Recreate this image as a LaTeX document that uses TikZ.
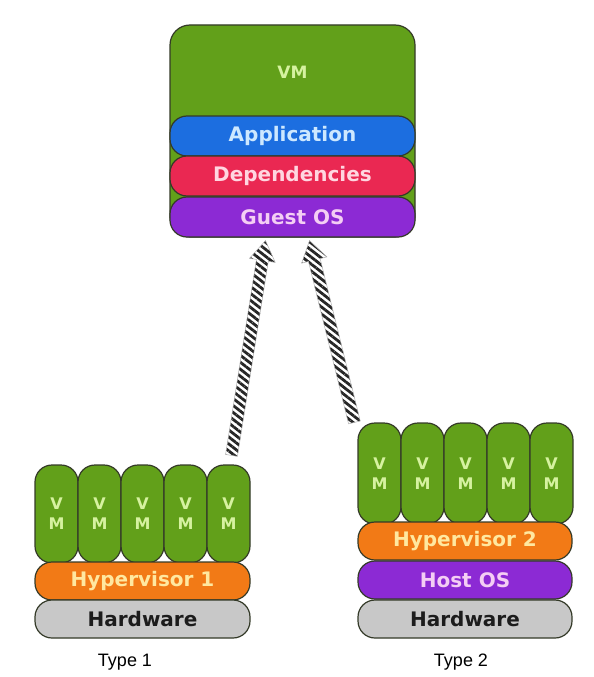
\documentclass[tikz,border=0pt]{standalone}
\usepackage{fontspec}
\setmainfont{DejaVu Sans}
\newfontfamily\typefont{Liberation Sans}
\usetikzlibrary{calc,patterns.meta}

\definecolor{vmgreen}{RGB}{98,160,26}
\definecolor{vmtext}{RGB}{214,242,160}
\definecolor{appblue}{RGB}{28,110,224}
\definecolor{apptext}{RGB}{205,232,255}
\definecolor{depred}{RGB}{234,40,82}
\definecolor{deptext}{RGB}{255,214,224}
\definecolor{ospurple}{RGB}{140,42,212}
\definecolor{ostext}{RGB}{244,206,244}
\definecolor{hvorange}{RGB}{242,122,22}
\definecolor{hvtext}{RGB}{255,232,160}
\definecolor{hwgray}{RGB}{200,200,200}
\definecolor{hwtext}{RGB}{28,28,28}
\definecolor{edge}{RGB}{52,58,40}

% striped arrow from #1 (tail) to #2 (tip)
\newcommand{\hatcharrow}[2]{%
  \coordinate (hb) at ($(#2)!20pt!(#1)$);
  \filldraw[hatch] ($(#1)!6pt!90:(#2)$) -- ($(hb)!6pt!90:(#2)$)
    -- ($(hb)!13pt!90:(#2)$) -- (#2) -- ($(hb)!13pt!-90:(#2)$)
    -- ($(hb)!6pt!-90:(#2)$) -- ($(#1)!6pt!-90:(#2)$) -- cycle;
}

\begin{document}
\begin{tikzpicture}[x=1pt,y=-1pt,
    layer/.style={draw=edge, line width=1.2pt, rounded corners=17pt,
      minimum height=40pt, inner sep=0pt,
      font=\bfseries\fontsize{20}{22}\selectfont},
    vmpill/.style={draw=edge, line width=1.2pt, fill=vmgreen, text=vmtext,
      rounded corners=17pt, minimum width=43pt, minimum height=#1,
      inner sep=0pt, align=center,
      font=\bfseries\fontsize{16}{20}\selectfont},
    hatch/.style={draw=gray!60, line width=0.5pt, pattern color=black!85,
      pattern={Lines[angle=-38,distance=5.5pt,line width=2.8pt]}},
    typelabel/.style={font=\typefont\fontsize{18}{20}\selectfont}]
  \useasboundingbox (0,0) rectangle (594,677);

  % the VM
  \node[layer, fill=vmgreen, minimum width=245pt, minimum height=212pt,
    rounded corners=20pt] (vm) at (292.5,131) {};
  \node[text=vmtext, font=\bfseries\fontsize{17}{19}\selectfont] (vmlabel) at (292.5,72) {VM};
  \node[layer, fill=appblue, text=apptext, minimum width=245pt] (app) at (292.5,136) {Application};
  \node[layer, fill=depred, text=deptext, minimum width=245pt] (dep) at (292.5,176) {Dependencies};
  \node[layer, fill=ospurple, text=ostext, minimum width=245pt] (guest) at (292.5,217) {Guest OS};

  % Type 1
  \foreach \i in {1,...,5}
    \node[vmpill=98pt] (ta\i) at ({13.5+43*\i},514) {V\\M};
  \node[layer, fill=hvorange, text=hvtext, minimum width=215pt, minimum height=38pt] (hyp1) at (142.5,581) {Hypervisor 1};
  \node[layer, fill=hwgray, text=hwtext, minimum width=215pt, minimum height=38pt] (hw1) at (142.5,619) {Hardware};
  \node[typelabel] (type1) at (125,662) {Type 1};

  % Type 2
  \foreach \i in {1,...,5}
    \node[vmpill=101pt] (tb\i) at ({336.5+43*\i},473.5) {V\\M};
  \node[layer, fill=hvorange, text=hvtext, minimum width=214pt, minimum height=38pt] (hyp2) at (465,541) {Hypervisor 2};
  \node[layer, fill=ospurple, text=ostext, minimum width=214pt, minimum height=38pt] (host) at (465,580) {Host OS};
  \node[layer, fill=hwgray, text=hwtext, minimum width=214pt, minimum height=38pt] (hw2) at (465,619) {Hardware};
  \node[typelabel] (type2) at (461,662) {Type 2};

  % striped arrows up to the guest OS
  \coordinate (from1) at ($(ta5.north)+(3,-9)$);
  \coordinate (to1) at ($(guest.south)+(-27,3)$);
  \coordinate (from2) at ($(tb1.north west)+(-3,0)$);
  \coordinate (to2) at ($(guest.south)+(17,3)$);
  \hatcharrow{from1}{to1}
  \hatcharrow{from2}{to2}
\end{tikzpicture}
\end{document}
